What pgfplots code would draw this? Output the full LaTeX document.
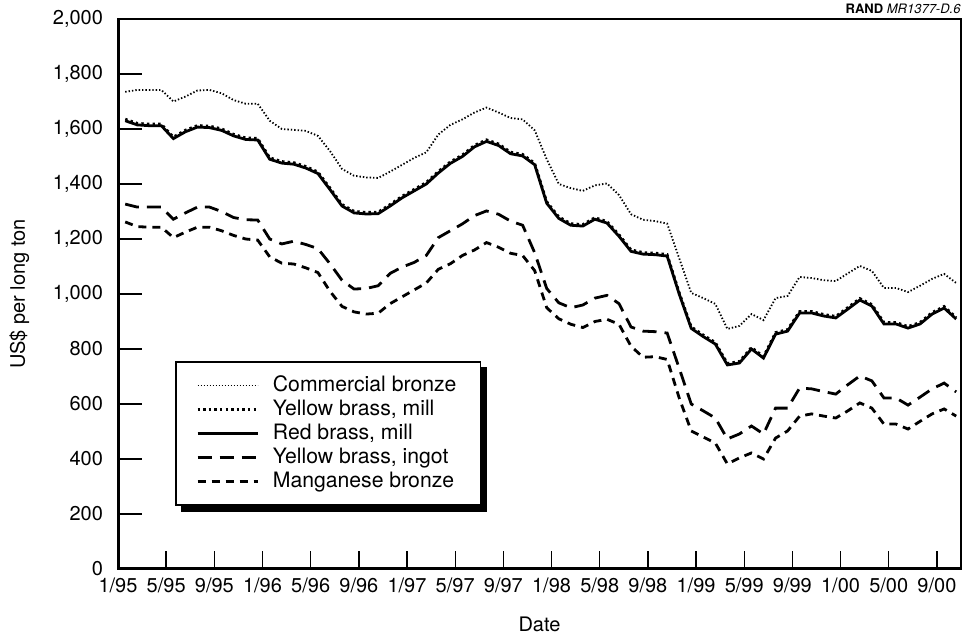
\documentclass[border=0pt]{standalone}
\usepackage{fontspec}
\setmainfont{TeX Gyre Heros}
\usepackage{pgfplots}
\pgfplotsset{compat=1.18}
\usepackage{pgfplotstable}

% m = months since 1/95; cb = Commercial bronze, ybm = Yellow brass mill,
% rbm = Red brass mill, ybi = Yellow brass ingot, mb = Manganese bronze
\pgfplotstableread{
m cb ybm rbm ybi mb
0.6 1735 1636 1630 1327 1262
1.6 1742 1621 1615 1316 1245
2.6 1742 1618 1612 1316 1243
3.6 1742 1618 1612 1316 1243
4.6 1700 1571 1565 1272 1205
5.6 1718 1596 1590 1295 1225
6.6 1740 1613 1607 1316 1243
7.6 1742 1611 1605 1316 1243
8.6 1730 1601 1595 1300 1230
9.6 1705 1581 1575 1278 1213
10.6 1692 1568 1562 1270 1200
11.6 1692 1566 1560 1269 1196
12.6 1630 1496 1490 1200 1135
13.6 1600 1482 1476 1182 1112
14.6 1597 1478 1472 1192 1109
15.6 1593 1464 1458 1180 1095
16.6 1575 1444 1438 1165 1078
17.6 1520 1386 1380 1110 1010
18.6 1455 1326 1320 1050 955
19.6 1430 1301 1295 1018 935
20.6 1424 1297 1291 1020 927
21.6 1422 1298 1292 1030 930
22.6 1445 1326 1320 1075 965
23.6 1470 1356 1350 1098 990
24.6 1495 1381 1375 1115 1015
25.6 1515 1406 1400 1140 1040
26.6 1580 1446 1440 1205 1090
27.6 1615 1481 1475 1230 1110
28.6 1635 1506 1500 1255 1140
29.6 1660 1541 1535 1285 1160
30.6 1678 1561 1555 1302 1187
31.6 1660 1546 1540 1290 1170
32.6 1640 1516 1510 1265 1148
33.6 1635 1508 1502 1250 1140
34.6 1595 1476 1470 1150 1085
35.6 1490 1336 1330 1020 950
36.6 1400 1281 1275 968 910
37.6 1385 1256 1250 950 890
38.6 1375 1253 1247 960 878
39.6 1395 1278 1272 985 900
40.6 1402 1264 1258 995 908
41.6 1360 1216 1210 965 890
42.6 1290 1161 1155 880 810
43.6 1270 1151 1145 865 770
44.6 1265 1149 1143 863 772
45.6 1256 1144 1138 858 762
46.6 1130 1006 1000 730 622
47.6 1004 881 875 600 502
48.6 985 851 845 575 480
49.6 964 824 818 549 458
50.6 873 748 742 473 382
51.6 884 755 749 491 404
52.6 927 806 800 520 422
53.6 905 773 767 491 400
54.6 985 860 854 585 476
55.6 993 871 865 585 502
56.6 1062 937 931 658 556
57.6 1058 937 931 655 564
58.6 1050 926 920 645 556
59.6 1047 919 913 636 549
60.6 1075 951 945 670 575
61.6 1102 984 978 702 604
62.6 1084 962 956 684 585
63.6 1022 897 891 622 527
64.6 1022 897 891 622 527
65.6 1007 882 876 596 509
66.6 1030 897 891 625 537
67.6 1055 933 927 655 564
68.6 1073 955 949 676 582
69.6 1040 915 909 644 556
}\data

\begin{document}
\begin{tikzpicture}
\begin{axis}[
  name=ax,
  scale only axis,
  width=421.5pt, height=275pt,
  xmin=0, xmax=70, ymin=0, ymax=2000,
  xtick={0,4,...,68},
  xticklabels={1/95,5/95,9/95,1/96,5/96,9/96,1/97,5/97,9/97,1/98,5/98,9/98,1/99,5/99,9/99,1/00,5/00,9/00},
  ytick={0,200,...,2000},
  tick align=inside,
  xtick pos=bottom, ytick pos=left,
  major tick length=12pt,
  xtick style={/pgfplots/major tick length=9pt, line width=0.7pt, black},
  ytick style={line width=0.7pt, black},
  /pgf/number format/.cd, 1000 sep={,}, assume math mode=true, /pgfplots/.cd,
  ticklabel style={font=\fontsize{10}{12}\selectfont},
  yticklabel style={xshift=-4pt},
  xticklabel style={yshift=-1pt},
  axis line style={line width=0.8pt},
  xlabel={Date}, ylabel={US\$ per long ton},
  label style={font=\fontsize{10}{12}\selectfont},
  every axis x label/.style={at={(axis description cs:0.5,-0.1)}, anchor=center},
  every axis y label/.style={at={(axis description cs:-0.117,0.5)}, anchor=center, rotate=90},
  legend image code/.code={\draw[#1] (0pt,0pt) -- (30pt,0pt);},
  legend cell align=left,
  legend style={at={(rel axis cs:0.068,0.378)}, anchor=north west, name=leg,
    draw=black, line width=0.8pt, fill=white,
    font=\fontsize{10.6}{12}\selectfont,
    inner xsep=10pt, inner ysep=5pt, row sep=-1.2pt,
    /tikz/every odd column/.append style={column sep=5pt}},
]
\addlegendimage{black, line width=0.8pt, dash pattern=on 0.6pt off 0.9pt}
\addlegendimage{black, line width=1.2pt, dash pattern=on 1.2pt off 1.6pt}
\addlegendimage{black, line width=1.4pt}
\addlegendimage{black, line width=1.4pt, dash pattern=on 7pt off 4pt}
\addlegendimage{black, line width=1.4pt, dash pattern=on 4pt off 3pt}
\legend{Commercial bronze, {Yellow brass, mill}, {Red brass, mill}, {Yellow brass, ingot}, Manganese bronze}

\addplot[forget plot, black, line width=0.9pt, dash pattern=on 0.7pt off 1pt] table[x=m, y=cb] {\data};
\addplot[forget plot, black, line width=1.4pt] table[x=m, y=rbm] {\data};
\addplot[forget plot, black, line width=1.3pt, dash pattern=on 1.2pt off 1.6pt] table[x=m, y=ybm] {\data};
\addplot[forget plot, black, line width=1.4pt, dash pattern=on 7pt off 4pt] table[x=m, y=ybi] {\data};
\addplot[forget plot, black, line width=1.4pt, dash pattern=on 4pt off 3pt] table[x=m, y=mb] {\data};

\draw[line width=1.6pt, black] (rel axis cs:0,1) -- (rel axis cs:0,0) -- (rel axis cs:1,0);
\end{axis}
% legend shadow
\fill[black] ([yshift=-3pt]leg.north east) rectangle ([xshift=3pt,yshift=-3pt]leg.south east);
\fill[black] ([xshift=3pt]leg.south west) rectangle ([xshift=3pt,yshift=-3pt]leg.south east);
\node[anchor=south east, inner sep=0pt, font=\fontsize{6.5}{8}\selectfont] at ([yshift=2.5pt]ax.north east) {\textbf{RAND} \textit{MR1377-D.6}};
\pgfresetboundingbox
\path[use as bounding box] ([xshift=-59pt,yshift=-34pt]ax.south west) rectangle ([xshift=4pt,yshift=9.5pt]ax.north east);
\end{tikzpicture}
\end{document}
